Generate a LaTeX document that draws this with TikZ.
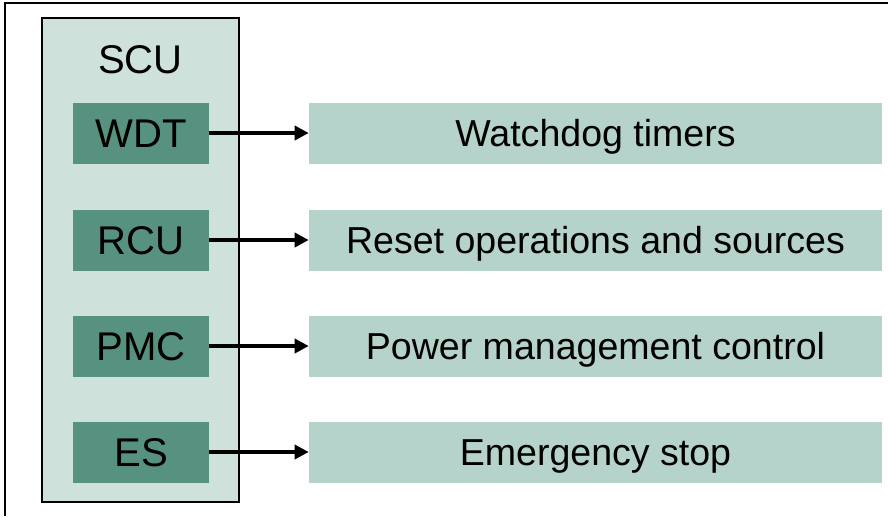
\documentclass[tikz,border=0pt]{standalone}
\usepackage{fontspec}
\setmainfont{Liberation Sans}
\usepackage{tikz}
\usetikzlibrary{arrows.meta}
\definecolor{scufill}{RGB}{206,226,219}
\definecolor{unitfill}{RGB}{87,145,127}
\definecolor{descfill}{RGB}{181,211,202}
\tikzset{
  unit/.style={fill=unitfill, minimum width=136*0.025cm, minimum height=61*0.025cm, inner sep=0pt, text height=20.4pt, text depth=0pt, font=\fontsize{28.5}{30}\selectfont},
  desc/.style={fill=descfill, minimum width=573*0.025cm, minimum height=61*0.025cm, inner sep=0pt, text height=19.1pt, text depth=0pt, font=\fontsize{26.7}{28}\selectfont},
  link/.style={-{Triangle[length=10pt,width=10pt]}, line width=2.6pt}
}
\begin{document}
\begin{tikzpicture}[x=0.025cm, y=-0.025cm]
                    \useasboundingbox (0,0) rectangle (888,516);
                    \draw[line width=1.4pt] (5,516) -- (5,3) -- (888,3);

                    \node[draw, line width=1.1pt, fill=scufill, minimum width=197*0.025cm, minimum height=484*0.025cm, inner sep=0pt] (scu) at (140.5,260) {};
                    \node[inner sep=0pt, text height=20.4pt, text depth=0pt, font=\fontsize{28.5}{30}\selectfont] (scutitle) at (140.5,59) {SCU};

                    \node[unit] (wdt) at (141,133) {WDT};
                    \node[unit] (rcu) at (141,240) {RCU};
                    \node[unit] (pmc) at (141,346) {PMC};
                    \node[unit] (es) at (141,452) {ES};

                    \node[desc] (wdtdesc) at (595.5,133) {Watchdog timers};
                    \node[desc] (rcudesc) at (595.5,240) {Reset operations and sources};
                    \node[desc] (pmcdesc) at (595.5,346) {Power management control};
                    \node[desc] (esdesc) at (595.5,452) {Emergency stop};

                    \draw[link] (wdt) -- (wdtdesc);
                    \draw[link] (rcu) -- (rcudesc);
                    \draw[link] (pmc) -- (pmcdesc);
                    \draw[link] (es) -- (esdesc);
                \end{tikzpicture}
\end{document}
